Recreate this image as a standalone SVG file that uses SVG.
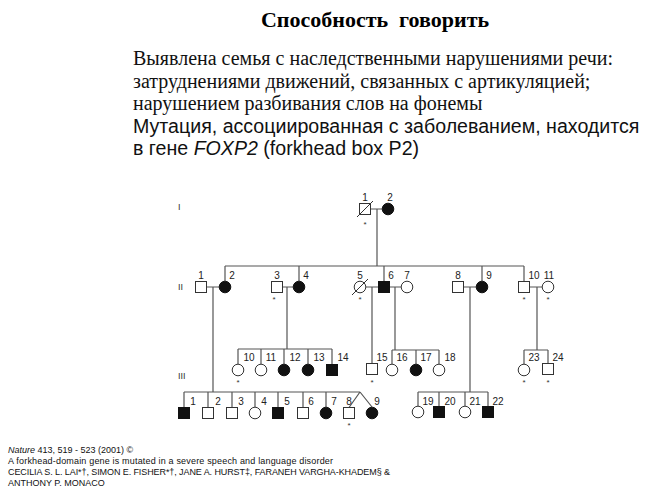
<svg xmlns="http://www.w3.org/2000/svg" width="650" height="494" viewBox="0 0 650 494">
<style>
.ttl{font-family:"Liberation Serif","Times New Roman",serif;font-weight:bold;font-size:22px;fill:#000}
.ser{font-family:"Liberation Serif","Times New Roman",serif;font-size:20px;fill:#111}
.san{font-family:"Liberation Sans",Arial,sans-serif;font-size:19.6px;fill:#111}
.cit{font-family:"Liberation Sans",Arial,sans-serif;font-size:9px;fill:#111}
.lbl{font-family:"Liberation Sans",Arial,sans-serif;font-size:10px;fill:#222}
.gen{font-family:"Liberation Sans",Arial,sans-serif;font-size:9px;fill:#333}
.ast{font-family:"Liberation Sans",Arial,sans-serif;font-size:8px;fill:#333;text-anchor:middle}
.ln{stroke:#555;stroke-width:1.2;fill:none}
.u{fill:#fff;stroke:#333;stroke-width:1}
.a{fill:#111;stroke:#111;stroke-width:1}
.sl{stroke:#333;stroke-width:1}
</style>
<rect width="650" height="494" fill="#fff"/>
<g id="text">
<text class="ttl" x="375" y="27" text-anchor="middle" xml:space="preserve">Способность  говорить</text>
<text class="ser" x="133" y="65">Выявлена семья с наследственными нарушениями речи:</text>
<text class="ser" x="133" y="88">затруднениями движений, связанных с артикуляцией;</text>
<text class="ser" x="133" y="110">нарушением разбивания слов на фонемы</text>
<text class="san" x="133" y="133">Мутация, ассоциированная с заболеванием, находится</text>
<text class="san" x="133" y="155">в гене <tspan font-style="italic">FOXP2</tspan> (forkhead box P2)</text>
<text class="cit" x="8" y="453"><tspan font-style="italic">Nature</tspan> 413, 519 - 523 (2001) ©</text>
<text class="cit" x="8" y="464" textLength="325" lengthAdjust="spacing">A forkhead-domain gene is mutated in a severe speech and language disorder</text>
<text class="cit" x="8" y="475" textLength="382" lengthAdjust="spacing">CECILIA S. L. LAI*†, SIMON E. FISHER*†, JANE A. HURST‡, FARANEH VARGHA-KHADEM§ &amp;</text>
<text class="cit" x="8" y="486">ANTHONY P. MONACO</text>
<text class="gen" x="178" y="210">I</text>
<text class="gen" x="178" y="290">II</text>
<text class="gen" x="178" y="379">III</text>
</g>
<g id="connectors">
<path class="ln" d="M370.5 209H382M377 209V266M225 266H524M225 266V281M299 266V281M384 266V281.5M482 266V281M524 266V281.5"/>
<path class="ln" d="M206.5 287H219M213 287V392M282.5 287H293M287 287V349M366 287H378.5M372 287V363.5M389.5 287H401M395 287V350M463.5 287H476M470 287V392M529.5 287H542M537 287V350"/>
<path class="ln" d="M238 349H332M238 349V364M261 349V364M284 349V364M308 349V364M332 349V364.5"/>
<path class="ln" d="M392 350H439M392 350V364M416 350V364M439 350V364"/>
<path class="ln" d="M524 350H548M524 350V364M548 350V363.5"/>
<path class="ln" d="M184 392H360M184 392V407.5M208 392V407.5M232 392V407.5M255 392V407M278 392V407.5M303 392V407.5M326 392V407M360 392L349 407.5M360 392L372 407"/>
<path class="ln" d="M418 392H488M418 392V406M439 392V406.5M465 392V406M488 392V406.5"/>
</g>
<g id="gen1">
<g id="I-1"><rect class="u" x="359.5" y="203.5" width="11" height="11"/><line class="sl" x1="357" y1="217" x2="373" y2="201"/><text class="lbl" x="365" y="201" text-anchor="middle">1</text><text class="ast" x="365" y="227">*</text></g>
<g id="I-2"><circle class="a" cx="388" cy="209" r="5.8"/><text class="lbl" x="390" y="201" text-anchor="middle">2</text></g>
</g>
<g id="gen2">
<g id="II-1"><rect class="u" x="195.5" y="281.5" width="11" height="11"/><text class="lbl" x="201" y="279" text-anchor="middle">1</text></g>
<g id="II-2"><circle class="a" cx="225" cy="287" r="5.8"/><text class="lbl" x="232" y="279" text-anchor="middle">2</text></g>
<g id="II-3"><rect class="u" x="271.5" y="281.5" width="11" height="11"/><text class="lbl" x="277" y="279" text-anchor="middle">3</text><text class="ast" x="274" y="302">*</text></g>
<g id="II-4"><circle class="a" cx="299" cy="287" r="5.8"/><text class="lbl" x="306" y="279" text-anchor="middle">4</text></g>
<g id="II-5"><circle class="u" cx="360" cy="287" r="5.8"/><line class="sl" x1="352" y1="295" x2="368" y2="279"/><text class="lbl" x="360" y="279" text-anchor="middle">5</text><text class="ast" x="360" y="302">*</text></g>
<g id="II-6"><rect class="a" x="378.5" y="281.5" width="11" height="11"/><text class="lbl" x="391" y="279" text-anchor="middle">6</text></g>
<g id="II-7"><circle class="u" cx="407" cy="287" r="5.8"/><text class="lbl" x="407" y="279" text-anchor="middle">7</text></g>
<g id="II-8"><rect class="u" x="452.5" y="281.5" width="11" height="11"/><text class="lbl" x="458" y="279" text-anchor="middle">8</text></g>
<g id="II-9"><circle class="a" cx="482" cy="287" r="5.8"/><text class="lbl" x="489" y="279" text-anchor="middle">9</text></g>
<g id="II-10"><rect class="u" x="518.5" y="281.5" width="11" height="11"/><text class="lbl" x="534" y="279" text-anchor="middle">10</text><text class="ast" x="524" y="302">*</text></g>
<g id="II-11"><circle class="u" cx="548" cy="287" r="5.8"/><text class="lbl" x="549" y="279" text-anchor="middle">11</text><text class="ast" x="548" y="302">*</text></g>
</g>
<g id="gen3">
<g id="III-10"><circle class="u" cx="238" cy="370" r="5.8"/><text class="lbl" x="249" y="361" text-anchor="middle">10</text><text class="ast" x="238" y="385">*</text></g>
<g id="III-11"><circle class="u" cx="261" cy="370" r="5.8"/><text class="lbl" x="271" y="361" text-anchor="middle">11</text></g>
<g id="III-12"><circle class="a" cx="284" cy="370" r="5.8"/><text class="lbl" x="295" y="361" text-anchor="middle">12</text></g>
<g id="III-13"><circle class="a" cx="308" cy="370" r="5.8"/><text class="lbl" x="319" y="361" text-anchor="middle">13</text></g>
<g id="III-14"><rect class="a" x="326.5" y="364.5" width="11" height="11"/><text class="lbl" x="343" y="361" text-anchor="middle">14</text></g>
<g id="III-15"><rect class="u" x="366.5" y="363.5" width="11" height="11"/><text class="lbl" x="382" y="361" text-anchor="middle">15</text><text class="ast" x="372" y="385">*</text></g>
<g id="III-16"><circle class="u" cx="392" cy="370" r="5.8"/><text class="lbl" x="402" y="361" text-anchor="middle">16</text></g>
<g id="III-17"><circle class="a" cx="416" cy="370" r="5.8"/><text class="lbl" x="426" y="361" text-anchor="middle">17</text></g>
<g id="III-18"><circle class="u" cx="439" cy="370" r="5.8"/><text class="lbl" x="450" y="361" text-anchor="middle">18</text></g>
<g id="III-23"><circle class="u" cx="524" cy="370" r="5.8"/><text class="lbl" x="534" y="361" text-anchor="middle">23</text><text class="ast" x="524" y="385">*</text></g>
<g id="III-24"><rect class="u" x="542.5" y="363.5" width="11" height="11"/><text class="lbl" x="558" y="361" text-anchor="middle">24</text><text class="ast" x="548" y="385">*</text></g>
<g id="III-1"><rect class="a" x="178.5" y="407.5" width="11" height="11"/><text class="lbl" x="193" y="405" text-anchor="middle">1</text></g>
<g id="III-2"><rect class="u" x="202.5" y="407.5" width="11" height="11"/><text class="lbl" x="218" y="405" text-anchor="middle">2</text></g>
<g id="III-3"><rect class="u" x="226.5" y="407.5" width="11" height="11"/><text class="lbl" x="241" y="405" text-anchor="middle">3</text></g>
<g id="III-4"><circle class="u" cx="255" cy="413" r="5.8"/><text class="lbl" x="264" y="405" text-anchor="middle">4</text></g>
<g id="III-5"><rect class="a" x="272.5" y="407.5" width="11" height="11"/><text class="lbl" x="287" y="405" text-anchor="middle">5</text></g>
<g id="III-6"><rect class="u" x="297.5" y="407.5" width="11" height="11"/><text class="lbl" x="311" y="405" text-anchor="middle">6</text></g>
<g id="III-7"><circle class="a" cx="326" cy="413" r="5.8"/><text class="lbl" x="334" y="405" text-anchor="middle">7</text></g>
<g id="III-8"><rect class="u" x="343.5" y="407.5" width="11" height="11"/><text class="lbl" x="349" y="405" text-anchor="middle">8</text><text class="ast" x="349" y="428">*</text></g>
<g id="III-9"><circle class="a" cx="372" cy="413" r="5.8"/><text class="lbl" x="377" y="405" text-anchor="middle">9</text></g>
<g id="III-19"><circle class="u" cx="418" cy="412" r="5.8"/><text class="lbl" x="428" y="405" text-anchor="middle">19</text></g>
<g id="III-20"><rect class="a" x="433.5" y="406.5" width="11" height="11"/><text class="lbl" x="450" y="405" text-anchor="middle">20</text></g>
<g id="III-21"><circle class="u" cx="465" cy="412" r="5.8"/><text class="lbl" x="475" y="405" text-anchor="middle">21</text></g>
<g id="III-22"><rect class="a" x="482.5" y="406.5" width="11" height="11"/><text class="lbl" x="498" y="405" text-anchor="middle">22</text></g>
</g>
</svg>
